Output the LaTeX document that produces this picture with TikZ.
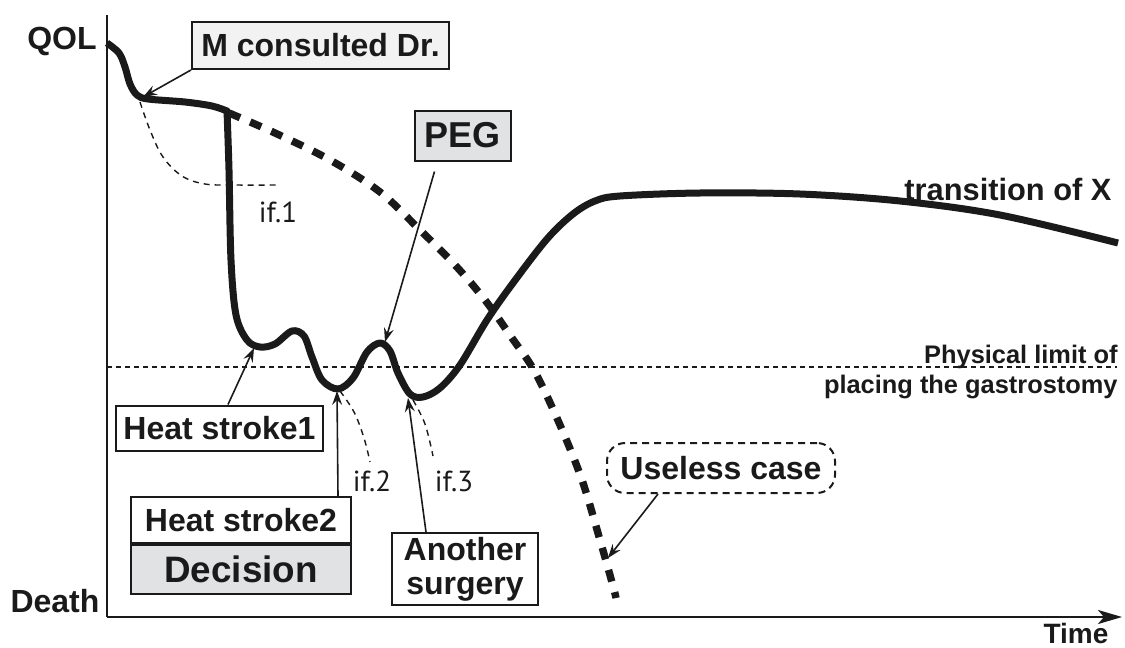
\documentclass[tikz,border=0pt]{standalone}
\usepackage{fontspec}
\setmainfont{Liberation Sans}
\newfontfamily\lightfont{PT Sans}
\usetikzlibrary{arrows.meta,calc}
\definecolor{boxgray}{HTML}{E1E2E4}
\definecolor{lightgray}{HTML}{F2F2F2}
\definecolor{ink}{HTML}{1A1A1A}
\begin{document}
\begin{tikzpicture}[x=0.5pt,y=-0.5pt,
  lab/.style={font=\fontsize{16}{18}\selectfont\bfseries, text=ink},
  box/.style={draw=ink, line width=1pt, inner sep=0pt, align=center, lab},
  thin/.style={line width=0.8pt, draw=ink},
  ann/.style={thin, -{Stealth[length=7pt,width=5pt,inset=2.5pt]}},
  ifline/.style={line width=0.7pt, draw=ink, dash pattern=on 3pt off 2.5pt},
  iflab/.style={font=\lightfont\fontsize{14.5}{16}\selectfont, text=ink},
  mainline/.style={line width=3.5pt, draw=ink, line join=round},
  bigdash/.style={line width=3.7pt, draw=ink, dash pattern=on 6pt off 5.5pt}]
\useasboundingbox (0,0) rectangle (1125,648);

% axes
\coordinate (ytop) at (107,15);
\coordinate (orig) at (107,617);
\coordinate (xend) at (1122,617);
\draw[line width=1.1pt, draw=ink] (ytop) -- (orig);
\draw[line width=1.1pt, draw=ink, -{Stealth[length=12pt,width=7pt,inset=3pt]}] (orig) -- (xend);
\node[lab] (qol) at (62,41) {QOL};
\node[lab] (death) at (55,601) {Death};
\node[lab, font=\fontsize{14}{16}\selectfont\bfseries, anchor=base, inner sep=0pt] (time) at (1076,643) {Time};

% physical limit line
\coordinate (limA) at (107,367);
\coordinate (limB) at (1117,367);
\draw[line width=0.8pt, draw=ink, dash pattern=on 2.5pt off 2pt] (limA) -- (limB);
\node[anchor=east, align=right, inner sep=0pt, text=ink,
      font=\fontsize{12.7}{15}\selectfont\bfseries] (limit) at (1118,372)
      {Physical limit of\\placing the gastrostomy};

% if curves
\draw[ifline] plot[smooth, tension=0.6] coordinates {(140,102) (150,130) (163,157) (182,176) (205,184) (235,185) (280,185)};
\draw[ifline] plot[smooth, tension=0.6] coordinates {(340,391) (354,412) (364,438) (370,462)};
\draw[ifline] plot[smooth, tension=0.6] coordinates {(413,400) (425,424) (433,456)};
\node[iflab] (if1) at (278,212) {if.1};
\node[iflab] (if2) at (372,481) {if.2};
\node[iflab] (if3) at (454,481) {if.3};

% big dashed curve
\draw[bigdash] plot[smooth, tension=0.55] coordinates {(229,113) (275,133) (330,160) (380,192) (420,230) (455,265) (485,300) (512,338) (535,372) (560,425) (582,480) (600,540) (613,586) (616,598)};

% main curve
\draw[mainline] plot[smooth, tension=0.55] coordinates {(107,43) (119,53) (125,67) (130,84) (137,95) (148,99) (185,102) (212,106) (227,111)}
  -- plot[smooth, tension=0.55] coordinates {(227,111) (229,170) (231,260) (236,315) (247,340) (260,347) (275,344) (292,331) (304,336) (312,357) (322,380) (338,389) (353,378) (367,352) (380,343) (390,351) (398,373) (410,394) (423,397) (440,388) (460,365) (487,320) (513,283) (547,239) (573,214) (595,201) (620,196) (700,193) (800,194) (900,201) (1000,215) (1118,243)};
\node[lab, font=\fontsize{15.4}{17}\selectfont\bfseries] (trans) at (1008,189) {transition of X};

% curve points for annotations
\coordinate (pM) at (143,97);
\coordinate (pPEG) at (385,342);
\coordinate (pHS1) at (254,348);
\coordinate (pHS2) at (337,391);
\coordinate (pAS) at (408,398);
\coordinate (pUC) at (608,558);

% boxes
\node[box, fill=lightgray, minimum width=128.5pt, minimum height=23.5pt] (mcons) at (320.5,45.5) {M consulted Dr.};
\node[box, fill=boxgray, minimum width=48pt, minimum height=25pt, font=\fontsize{18}{20}\selectfont\bfseries] (peg) at (462.5,135.5) {PEG};
\node[box, fill=white, minimum width=103.5pt, minimum height=22.5pt] (hs1) at (219.5,428) {Heat stroke1};
\node[box, fill=white, minimum width=110pt, minimum height=23pt] (hs2) at (241,520) {Heat stroke2};
\node[box, fill=boxgray, minimum width=110pt, minimum height=24.5pt, font=\fontsize{18.4}{20}\selectfont\bfseries] (dec) at (241,569.5) {Decision};
\node[box, fill=white, minimum width=73pt, minimum height=36pt, font=\fontsize{16}{17}\selectfont\bfseries] (another) at (465,569) {Another\\surgery};
\node[box, fill=white, dashed, dash pattern=on 3.5pt off 2.5pt, rounded corners=9pt, minimum width=114pt, minimum height=25pt] (useless) at (721,468) {Useless case};

% annotation arrows
\draw[ann] (mcons.south west) -- (pM);
\draw[ann] ($(peg.south west)+(21,10)$) -- (pPEG);
\draw[ann] ($(hs1.north)+(8.5,0)$) -- (pHS1);
\draw[ann] ($(hs2.north east)+(-14,0)$) -- (pHS2);
\draw[ann] ($(another.north west)+(35,0)$) -- (pAS);
\draw[ann] ($(useless.south west)+(52,0)$) -- (pUC);
\end{tikzpicture}
\end{document}
